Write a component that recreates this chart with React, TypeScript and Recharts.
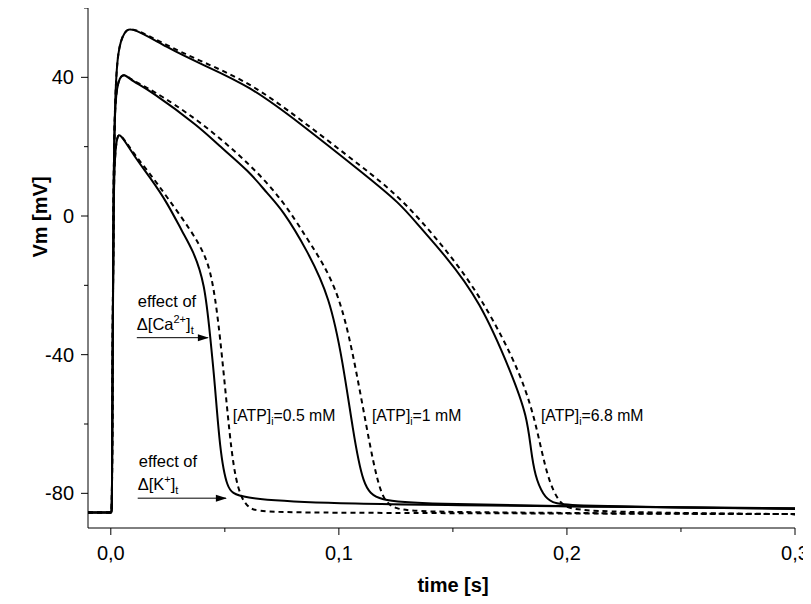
import React from "react";
import { LineChart, Line, XAxis, YAxis, ReferenceLine, ReferenceDot, Label } from "recharts";

const FONT = '"Liberation Sans", Arial, Helvetica, sans-serif';

// time [s] / Vm [mV]
const tAtp05Solid = [-0.01, -0.005, -0.001, 0.0003, 0.0005, 0.0008, 0.0012, 0.0018, 0.0028, 0.004, 0.01, 0.0171, 0.0246, 0.0316, 0.036, 0.0412, 0.0436, 0.0456, 0.0478, 0.0509, 0.0553, 0.0917, 0.15, 0.3];
const vAtp05Solid = [-85.5, -85.5, -85.5, -85.5, -85.5, -40, 5, 18, 23, 24, 17.5, 11.2, 4, -4.9, -9.8, -19.3, -35, -48, -67.3, -78.8, -81.4, -82.9, -83.5, -84.3];

const tAtp05Dash = [-0.01, -0.005, -0.001, 0.0003, 0.0005, 0.0008, 0.0012, 0.0018, 0.0028, 0.004, 0.01, 0.0171, 0.0246, 0.035, 0.042, 0.045, 0.0478, 0.0513, 0.0544, 0.0596, 0.07, 0.3];
const vAtp05Dash = [-85.5, -85.5, -85.5, -85.5, -85.5, -40, 5, 18, 23, 24, 18, 12.3, 5.5, -4, -11.8, -20, -33.7, -57.8, -76.8, -85.2, -85.6, -86];

const tAtp1Solid = [-0.01, -0.005, -0.001, 0.0003, 0.0005, 0.0008, 0.0012, 0.0018, 0.004, 0.006, 0.0096, 0.0171, 0.039, 0.0465, 0.061, 0.0684, 0.0754, 0.086, 0.096, 0.1018, 0.1061, 0.1105, 0.1167, 0.14, 0.2, 0.3];
const vAtp1Solid = [-85.5, -85.5, -85.5, -85.5, -85.5, -40, 10, 35.4, 40.3, 41, 38.8, 36.3, 25.6, 20.8, 12.7, 6.6, 1.7, -9.8, -23.3, -42.3, -61.6, -78, -82.3, -83, -83.8, -84.4];

const tAtp1Dash = [-0.01, -0.005, -0.001, 0.0003, 0.0005, 0.0008, 0.0012, 0.0018, 0.004, 0.006, 0.0096, 0.0171, 0.039, 0.061, 0.0754, 0.086, 0.093, 0.1, 0.1057, 0.1123, 0.118, 0.1237, 0.14, 0.3];
const vAtp1Dash = [-85.5, -85.5, -85.5, -85.5, -85.5, -40, 10, 35.4, 40.3, 41, 39, 36.8, 27.5, 15, 4.6, -6.5, -13.5, -23, -37.7, -61.6, -80.9, -84.8, -85.5, -86];

const tAtp68Solid = [-0.01, -0.005, -0.001, 0.0003, 0.0005, 0.0008, 0.0012, 0.0018, 0.003, 0.006, 0.0092, 0.0246, 0.039, 0.061, 0.0829, 0.1105, 0.1268, 0.1355, 0.1456, 0.1618, 0.1763, 0.1825, 0.1842, 0.186, 0.1895, 0.1935, 0.2, 0.25, 0.3];
const vAtp68Solid = [-85.5, -85.5, -85.5, -85.5, -85.5, -40, 10, 33.4, 48.2, 53.4, 54.6, 48.6, 44, 37.5, 26.8, 12.4, 3.7, -3.2, -10.6, -24.2, -46.3, -57.8, -67.5, -75, -80.5, -82.8, -83.5, -84.1, -84.5];

const tAtp68Dash = [-0.01, -0.005, -0.001, 0.0003, 0.0005, 0.0008, 0.0012, 0.0018, 0.003, 0.006, 0.0092, 0.0246, 0.039, 0.061, 0.0829, 0.1105, 0.1268, 0.1456, 0.1625, 0.1807, 0.1873, 0.1912, 0.1969, 0.205, 0.3];
const vAtp68Dash = [-85.5, -85.5, -85.5, -85.5, -85.5, -40, 10, 33.4, 48.2, 53.4, 54.6, 49.2, 44.8, 38.5, 28, 14, 5.5, -8.5, -23.3, -46.3, -62.4, -75.1, -83.7, -85.4, -86];

const xTicks = [0, 0.05, 0.1, 0.15, 0.2, 0.25, 0.3];
const yTicks = [-80, -60, -40, -20, 0, 20, 40, 60];

const atpLabels = [
  { t: 0.0535, v: -57.6, text: "=0.5 mM" },
  { t: 0.1145, v: -57.6, text: "=1 mM" },
  { t: 0.1886, v: -57.6, text: "=6.8 mM" },
];

const zip = (t: number[], v: number[]) => t.map((x, i) => ({ t: x, v: v[i] }));

const series = [
  { id: "atp05s", data: zip(tAtp05Solid, vAtp05Solid), dashed: false },
  { id: "atp05d", data: zip(tAtp05Dash, vAtp05Dash), dashed: true },
  { id: "atp1s", data: zip(tAtp1Solid, vAtp1Solid), dashed: false },
  { id: "atp1d", data: zip(tAtp1Dash, vAtp1Dash), dashed: true },
  { id: "atp68s", data: zip(tAtp68Solid, vAtp68Solid), dashed: false },
  { id: "atp68d", data: zip(tAtp68Dash, vAtp68Dash), dashed: true },
];

function XTick(props: any) {
  const { x, y, payload } = props;
  const v = payload.value;
  const major = Math.abs(v * 10 - Math.round(v * 10)) < 1e-6;
  return (
    <g>
      <line x1={x} x2={x} y1={y} y2={y + (major ? 7 : 4)} stroke="#000" />
      {major && (
        <text x={x} y={y + 32} textAnchor="middle" fontSize={20} fontFamily={FONT} fill="#000">
          {v.toFixed(1).replace(".", ",")}
        </text>
      )}
    </g>
  );
}

function YTick(props: any) {
  const { x, y, payload } = props;
  const v = payload.value;
  const major = v % 40 === 0;
  return (
    <g>
      <line x1={x} x2={x - (major ? 7 : 4)} y1={y} y2={y} stroke="#000" />
      {major && (
        <text x={x - 14} y={y} dy="0.35em" textAnchor="end" fontSize={20} fontFamily={FONT} fill="#000">
          {v}
        </text>
      )}
    </g>
  );
}

const arrowHead = (p: any) => (
  <polygon points={`${p.cx},${p.cy} ${p.cx - 11},${p.cy - 3.5} ${p.cx - 11},${p.cy + 3.5}`} fill="#000" />
);

function effectText(ion: string, sup: string) {
  return (p: any) => (
    <g fontFamily={FONT} fontSize={16.5} fill="#000">
      <text x={p.cx + 1} y={p.cy - 31}>effect of</text>
      <text x={p.cx} y={p.cy - 8}>
        {"\u0394[" + ion}
        <tspan dy={-7} fontSize={11}>{sup}</tspan>
        <tspan dy={7}>]</tspan>
        <tspan dy={4} fontSize={11}>t</tspan>
      </text>
    </g>
  );
}

function atpText(text: string) {
  return (p: any) => (
    <text x={p.cx} y={p.cy} dy="0.35em" fontFamily={FONT} fontSize={15.8} fill="#000">
      [ATP]
      <tspan dy={4} fontSize={10.5}>i</tspan>
      <tspan dy={-4}>{text}</tspan>
    </text>
  );
}

export default function App() {
  return (
    <LineChart width={803} height={588} margin={{ top: 0, right: 16, left: 0, bottom: 0 }}>
      <XAxis
        dataKey="t"
        type="number"
        domain={[-0.01, 0.3]}
        allowDataOverflow
        ticks={xTicks}
        tick={<XTick />}
        tickSize={0}
        tickMargin={0}
        tickLine={false}
        stroke="#000"
        height={68}
        interval={0}
      >
        <Label
          content={(p: any) => (
            <text
              x={p.viewBox.x + 23 + (p.viewBox.width - 23) / 2}
              y={p.viewBox.y + 64}
              textAnchor="middle"
              fontFamily={FONT}
              fontWeight="bold"
              fontSize={20}
              fill="#000"
            >
              time [s]
            </text>
          )}
        />
      </XAxis>
      <YAxis
        dataKey="v"
        type="number"
        domain={[-90, 60]}
        allowDataOverflow
        ticks={yTicks}
        tick={<YTick />}
        tickSize={0}
        tickMargin={0}
        tickLine={false}
        stroke="#000"
        width={80}
        interval={0}
      >
        <Label
          content={() => (
            <text
              transform={`translate(32, 209) rotate(-90)`}
              textAnchor="middle"
              dominantBaseline="central"
              fontFamily={FONT}
              fontWeight="bold"
              fontSize={20}
              fill="#000"
            >
              Vm [mV]
            </text>
          )}
        />
      </YAxis>
      {series.map((s) => (
        <Line
          key={s.id}
          data={s.data}
          dataKey="v"
          type="basis"
          stroke="#000"
          strokeWidth={2}
          strokeDasharray={s.dashed ? "5 4" : undefined}
          dot={false}
          activeDot={false}
          isAnimationActive={false}
        />
      ))}
      <ReferenceLine segment={[{ x: 0.0114, y: -35.1 }, { x: 0.0425, y: -35.1 }]} stroke="#000" strokeWidth={1} />
      <ReferenceDot x={0.043} y={-35.1} r={0} shape={arrowHead} />
      <ReferenceDot x={0.0114} y={-35.1} r={0} shape={effectText("Ca", "2+")} />
      <ReferenceLine segment={[{ x: 0.0118, y: -81.4 }, { x: 0.0505, y: -81.4 }]} stroke="#000" strokeWidth={1} />
      <ReferenceDot x={0.0509} y={-81.4} r={0} shape={arrowHead} />
      <ReferenceDot x={0.0118} y={-81.4} r={0} shape={effectText("K", "+")} />
      {atpLabels.map((a) => (
        <ReferenceDot key={a.text} x={a.t} y={a.v} r={0} shape={atpText(a.text)} />
      ))}
    </LineChart>
  );
}
